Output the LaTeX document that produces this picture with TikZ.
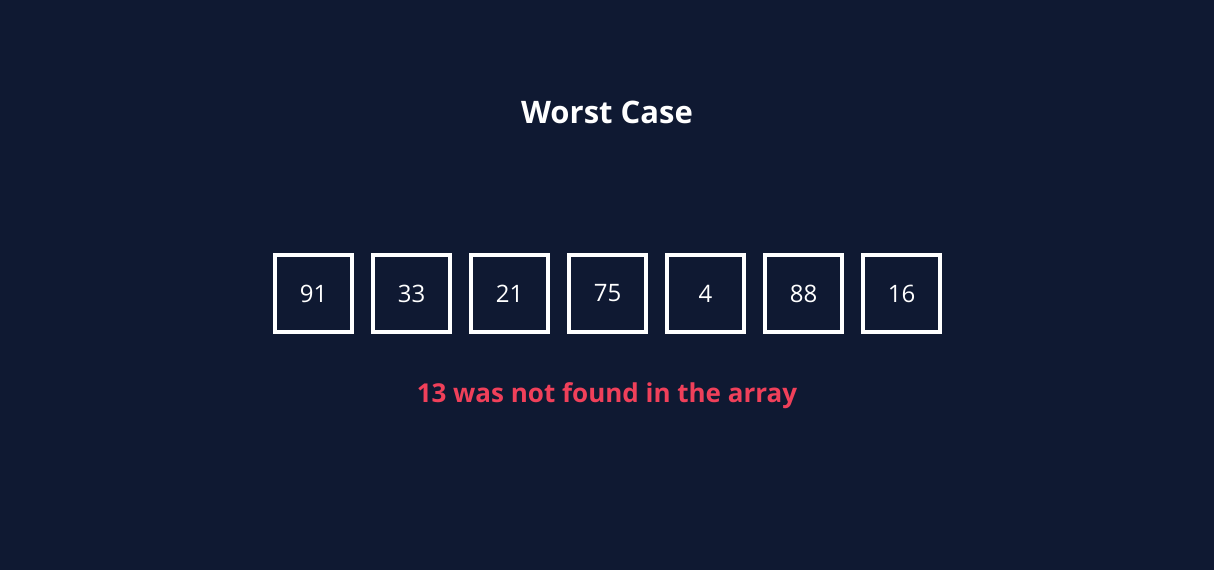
\documentclass[tikz,border=0pt]{standalone}
\usepackage{fontspec}
\setmainfont{Open Sans}
\definecolor{bg}{HTML}{0F1932}
\definecolor{warn}{HTML}{F0405A}
\begin{document}
\begin{tikzpicture}[x=1pt,y=-1pt,
  cell/.style={draw=white,line width=3.2pt,minimum width=77pt,minimum height=77pt,inner sep=0pt,text=white,font=\fontsize{24}{28}\selectfont},
  title/.style={text=white,font=\fontsize{31}{36}\bfseries\selectfont},
  msg/.style={text=warn,font=\fontsize{26}{32}\bfseries\selectfont}]
\fill[bg] (0,0) rectangle (1214,570);
\useasboundingbox (0,0) rectangle (1214,570);
\node[title] (t) at (607,112) {Worst Case};
\foreach \v [count=\i] in {91,33,21,75,4,88,16}{
  \node[cell] (c\i) at ({313.5+98*(\i-1)},293.5) {\raisebox{-2pt}{\v}};
}
\node[msg] (m) at (607,396) {13 was not found in the array};
\end{tikzpicture}
\end{document}
